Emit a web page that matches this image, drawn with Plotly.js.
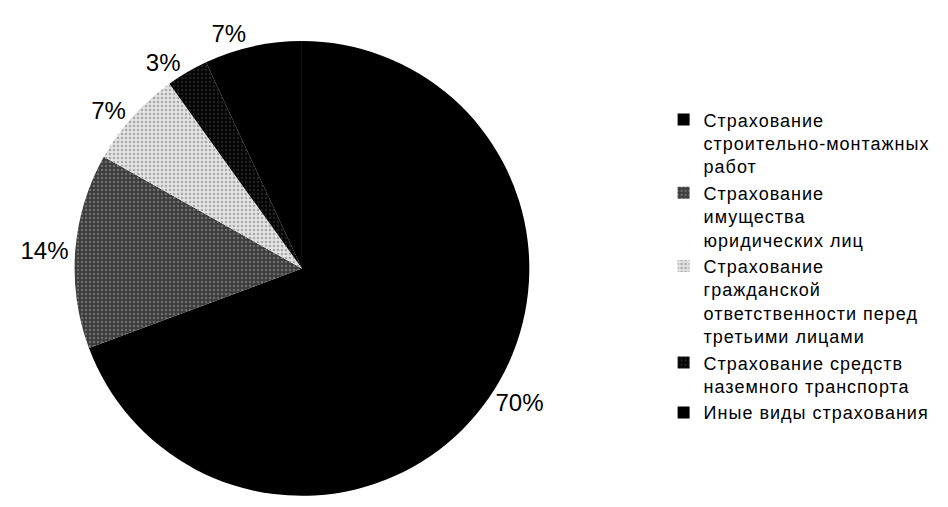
<!DOCTYPE html>
<html>
<head>
<meta charset="utf-8">
<script src="https://cdn.plot.ly/plotly-3.0.1.min.js"></script>
<style>
html,body{margin:0;padding:0;background:#fff;}
.legendtext{letter-spacing:1px;}
</style>
</head>
<body>
<div id="chart" style="width:948px;height:507px;"></div>
<script>
const categories = [
  "Страхование<br>строительно-монтажных<br>работ",
  "Страхование<br>имущества<br>юридических лиц",
  "Страхование<br>гражданской<br>ответственности перед<br>третьими лицами",
  "Страхование средств<br>наземного транспорта",
  "Иные виды страхования"
];
const shares = [70, 14, 7, 3, 7];
const sliceColors = ["#000000", "#3c3c3c", "#e2e2e2", "#050505", "#000000"];
const patternShapes = ["", ".", ".", ".", ""];
const patternFg = ["#000000", "#a0a0a0", "#707070", "#3a3a3a", "#000000"];

const trace = {
  type: "pie",
  labels: categories,
  values: shares,
  sort: false,
  direction: "clockwise",
  rotation: 0,
  textposition: "outside",
  texttemplate: "%{value}%",
  textfont: {family: "Liberation Sans, Arial, sans-serif", size: 24, color: "#000"},
  marker: {
    colors: sliceColors,
    line: {width: 0},
    pattern: {shape: patternShapes, fgcolor: patternFg, bgcolor: sliceColors, size: 4, solidity: 0.3, fillmode: "overlay"}
  },
  domain: {x: [0.078, 0.559], y: [0.022, 0.919]},
  hoverinfo: "label+value"
};

const layout = {
  width: 948, height: 507,
  margin: {l: 0, r: 0, t: 0, b: 0},
  paper_bgcolor: "#fff",
  showlegend: true,
  legend: {
    x: 0.700, y: 0.80, xanchor: "left", yanchor: "top",
    valign: "top",
    font: {family: "Liberation Sans, Arial, sans-serif", size: 18, color: "#000"},
    itemwidth: 30
  }
};

Plotly.newPlot("chart", [trace], layout, {displayModeBar: false, staticPlot: true});
</script>
</body>
</html>
